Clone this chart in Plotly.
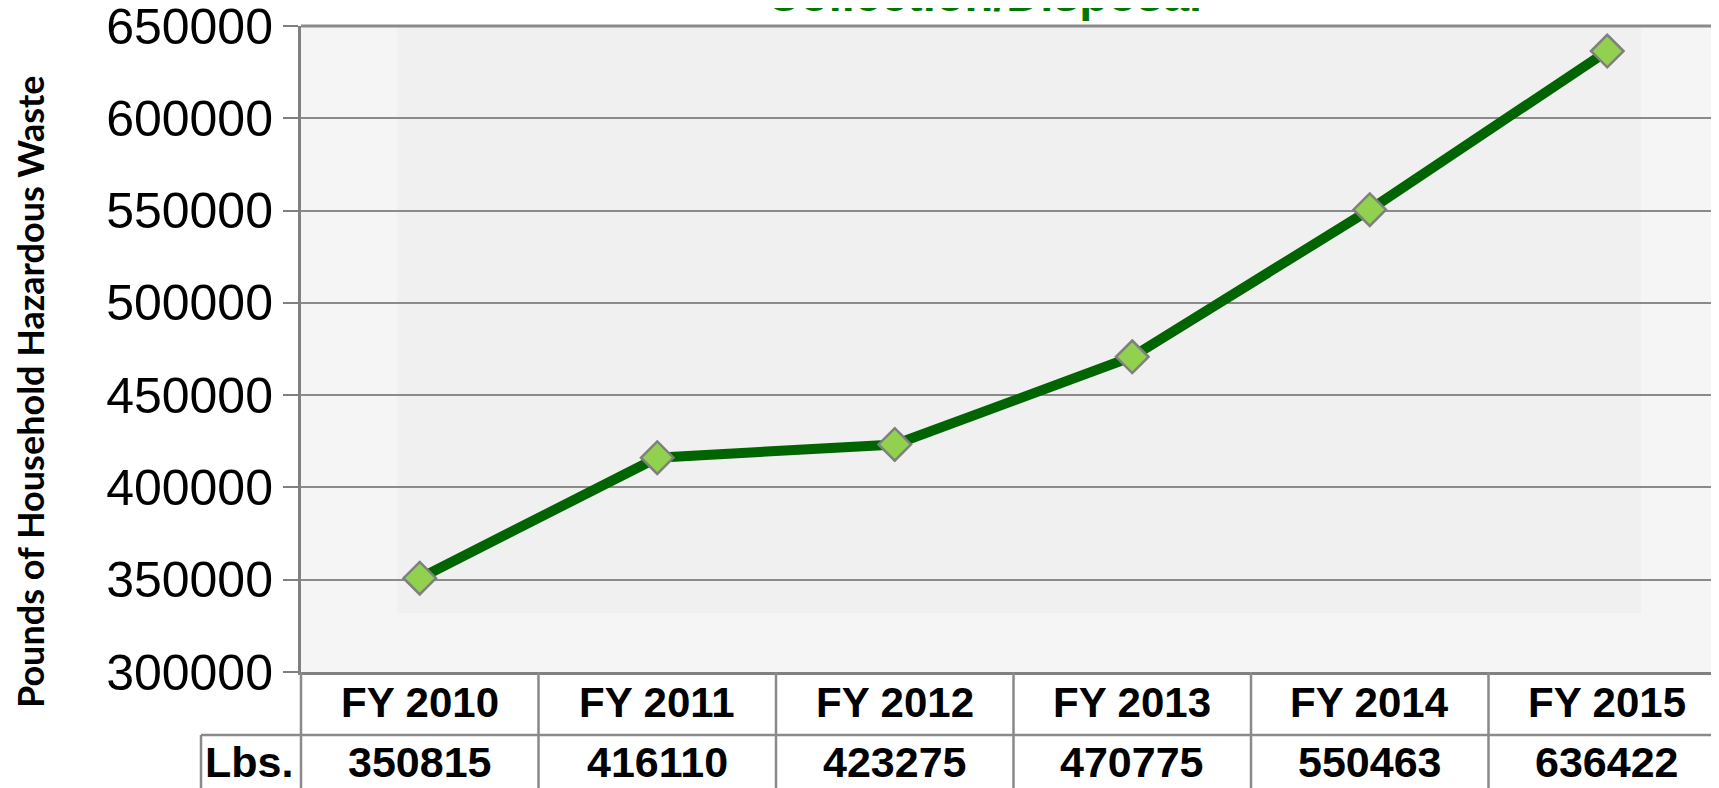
import plotly.graph_objects as go

categories = ["FY 2010", "FY 2011", "FY 2012", "FY 2013", "FY 2014", "FY 2015"]
pounds = [350815, 416110, 423275, 470775, 550463, 636422]
y_ticks = [300000, 350000, 400000, 450000, 500000, 550000, 600000, 650000]
row_label = "Lbs."
title_text = "Collection/Disposal"
y_title = "Pounds of Household Hazardous Waste"

# page body has an 8px default margin; size the figure to fill the window exactly
OFF = 8
W, H = 1719 - OFF, 788 - OFF
L_s, T_s, BOT_s = 301, 26, 672          # plot edges in window pixels
ML, MT = L_s - OFF, T_s - OFF
MB = H - (BOT_s - OFF)
pw = W - ML
ph = H - MT - MB


def px_x(p):
    return (p - L_s) / pw


def px_y(p):
    return (BOT_s - p) / ph


x_idx = list(range(len(categories)))
GRID = "#8a8a8a"
ARIAL = "Liberation Sans, Arial"

fig = go.Figure()
fig.add_trace(go.Scatter(
    x=x_idx, y=pounds, mode="lines+markers",
    line=dict(color="#006400", width=10),
    marker=dict(symbol="diamond", size=25, color="#92d050",
                line=dict(color="#7f7f7f", width=2.5)),
    hoverinfo="skip", showlegend=False,
))

shapes = [
    # solid inner background
    dict(type="rect", xref="paper", yref="paper", x0=px_x(397), x1=px_x(1641),
         y0=px_y(613), y1=1, fillcolor="#f0f0f0", line=dict(width=0), layer="below"),
    # top gridline
    dict(type="line", xref="paper", yref="paper", x0=0, x1=1, y0=1, y1=1,
         line=dict(color=GRID, width=3), layer="below"),
    # left border of table header
    dict(type="line", xref="paper", yref="paper", x0=0, x1=0, y0=0, y1=px_y(792),
         line=dict(color=GRID, width=2.5)),
    # row separator
    dict(type="line", xref="paper", yref="paper", x0=px_x(201), x1=1.01,
         y0=px_y(735), y1=px_y(735), line=dict(color=GRID, width=2.5)),
    # Lbs. cell left border
    dict(type="line", xref="paper", yref="paper", x0=px_x(201), x1=px_x(201),
         y0=px_y(735), y1=px_y(792), line=dict(color=GRID, width=2.5)),
]
for i in x_idx[1:]:
    shapes.append(dict(type="line", xref="x", yref="paper", x0=i - 0.5, x1=i - 0.5,
                       y0=0, y1=px_y(792), line=dict(color=GRID, width=2.5)))

annotations = []
for i, (cat, v) in enumerate(zip(categories, pounds)):
    annotations.append(dict(x=i, xref="x", y=px_y(702), yref="paper", text=cat,
                            showarrow=False, xanchor="center", yanchor="middle",
                            font=dict(family=ARIAL, size=42, color="black", weight="bold")))
    annotations.append(dict(x=i, xref="x", y=px_y(762), yref="paper", text=str(v),
                            showarrow=False, xanchor="center", yanchor="middle",
                            font=dict(family=ARIAL, size=43, color="black", weight="bold")))
annotations.append(dict(x=px_x(249), xref="paper", y=px_y(762), yref="paper", text=row_label,
                        showarrow=False, xanchor="center", yanchor="middle",
                        font=dict(family=ARIAL, size=43, color="black", weight="bold")))
annotations.append(dict(x=px_x(30), xref="paper", y=px_y(392), yref="paper", text=y_title,
                        showarrow=False, xanchor="center", yanchor="middle", textangle=-90,
                        font=dict(family="Lato, Open Sans, sans-serif", size=36,
                                  color="black", weight="bold")))
annotations.append(dict(x=px_x(984), xref="paper", y=px_y(-5), yref="paper", text=title_text,
                        showarrow=False, xanchor="center", yanchor="middle",
                        font=dict(family=ARIAL, size=47, color="#007800", weight="bold")))

fig.update_layout(
    width=W, height=H,
    margin=dict(l=ML, r=0, t=MT, b=MB, pad=0, autoexpand=False),
    paper_bgcolor="white",
    plot_bgcolor="#f5f5f5",
    shapes=shapes,
    annotations=annotations,
    xaxis=dict(range=[-0.5, -0.5 + pw / 237.5], showticklabels=False, showgrid=False,
               zeroline=False, showline=True, linecolor="#808080", linewidth=3, ticks="",
               automargin=False),
    yaxis=dict(range=[300000, 650000], tickvals=y_ticks, tickformat="d",
               showgrid=True, gridcolor=GRID, gridwidth=2, zeroline=False,
               showline=True, linecolor="#808080", linewidth=3,
               ticks="outside", ticklen=15, tickwidth=2, tickcolor="#808080",
               ticklabeloverflow="allow", automargin=False,
               tickfont=dict(family=ARIAL, size=50, color="black")),
)

fig.write_html("out.html")
